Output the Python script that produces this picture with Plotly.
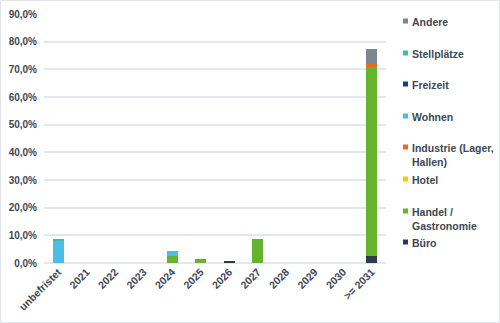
import plotly.graph_objects as go

categories = ["unbefristet", "2021", "2022", "2023", "2024", "2025", "2026",
              "2027", "2028", "2029", "2030", ">= 2031"]

buero =       [0, 0, 0, 0, 0,     0,     0.006, 0,     0, 0, 0, 0.026]
handel =      [0, 0, 0, 0, 0.024, 0.011, 0,     0.086, 0, 0, 0, 0.686]
hotel =       [0, 0, 0, 0, 0,     0,     0,     0,     0, 0, 0, 0]
industrie =   [0, 0, 0, 0, 0,     0,     0,     0,     0, 0, 0, 0.006]
wohnen =      [0.083, 0, 0, 0, 0.021, 0, 0,     0,     0, 0, 0, 0]
freizeit =    [0, 0, 0, 0, 0,     0,     0,     0,     0, 0, 0, 0]
stellplaetze = [0.004, 0, 0, 0, 0,    0,     0,     0,     0, 0, 0, 0]
andere =      [0, 0, 0, 0, 0,     0.003, 0,     0,     0, 0, 0, 0.054]

series = [
    ("Büro", buero, "#2e3b4e"),
    ("Handel /<br>Gastronomie", handel, "#66b32e"),
    ("Hotel", hotel, "#fcc900"),
    ("Industrie (Lager,<br>Hallen)", industrie, "#ea6a22"),
    ("Wohnen", wohnen, "#4dbde8"),
    ("Freizeit", freizeit, "#1a3c8c"),
    ("Stellplätze", stellplaetze, "#39c0a4"),
    ("Andere", andere, "#7d858e"),
]

W, H = 500, 323
ML, MR, MT, MB = 44, 114, 14, 60
FONT = "Liberation Sans, Arial, sans-serif"
TXT = "#3d4754"
pw = W - ML - MR
ph = H - MT - MB

def px_x(px):
    return (px - ML) / pw

def px_y(py):
    return (H - MB - py) / ph

fig = go.Figure()
for name, vals, col in series:
    fig.add_trace(go.Bar(x=categories, y=vals, name=name, marker_color=col,
                         marker_line_width=0, showlegend=False))

shapes = [dict(type="rect", xref="paper", yref="paper",
               x0=px_x(0.5), x1=px_x(W - 0.5), y0=px_y(H - 0.5), y1=px_y(0.5),
               line=dict(color="#e2e4ea", width=1), layer="below")]
annotations = []
# legend, top to bottom (reverse of stacking order)
legend_y = [242, 211, 179, 147, 116, 84, 53, 21]
for (name, vals, col), cy in zip(series, legend_y):
    shapes.append(dict(type="rect", xref="paper", yref="paper",
                       x0=px_x(403), x1=px_x(408), y0=px_y(cy + 2.5), y1=px_y(cy - 2.5),
                       fillcolor=col, line=dict(width=0)))
    annotations.append(dict(xref="paper", yref="paper", x=px_x(410), y=px_y(cy - 7),
                            xanchor="left", yanchor="top", align="left",
                            text=name, showarrow=False,
                            font=dict(size=10.5, color=TXT, family=FONT, weight="bold")))

fig.update_layout(
    width=W, height=H, barmode="stack", bargap=0.6,
    margin=dict(l=ML, r=MR, t=MT, b=MB, autoexpand=False),
    plot_bgcolor="white", paper_bgcolor="white",
    separators=",.",
    font=dict(family=FONT, size=10, color=TXT, weight="bold"),
    xaxis=dict(tickangle=-45, showgrid=False, ticks="", showline=False,
               automargin=False,
               tickfont=dict(size=10.5, color=TXT, weight="bold")),
    yaxis=dict(range=[0, 0.9], dtick=0.1, tickformat=".1%",
               gridcolor="#e3e6ec", gridwidth=1.5, zeroline=True,
               zerolinecolor="#e3e6ec", zerolinewidth=1.5, automargin=False,
               ticks="", ticklabelstandoff=6,
               tickfont=dict(size=10, color=TXT, weight="bold")),
    shapes=shapes, annotations=annotations,
)

fig.write_html("out.html")
